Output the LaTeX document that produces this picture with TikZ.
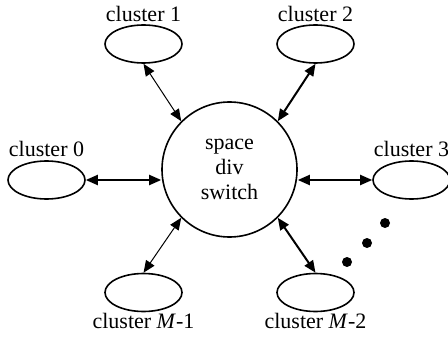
\documentclass[tikz,border=0pt]{standalone}
\usepackage{fontspec}
\setmainfont{Liberation Serif}
\usepackage{tikz}
\usetikzlibrary{arrows.meta, shapes.geometric, positioning}

\tikzset{
    cluster/.style={draw, ellipse, line width=0.8pt, inner sep=0pt, minimum width=38.5pt, minimum height=19pt},
    link/.style={{Triangle[length=6pt,width=5pt]}-{Triangle[length=6pt,width=5pt]}, line width=1pt},
    thinlink/.style={link, line width=0.5pt}
}

\begin{document}
\begin{tikzpicture}[x=0.5pt, y=0.5pt, font=\fontsize{11}{12.5}\selectfont]
        \useasboundingbox (0,0) rectangle (448,337);
        \node[draw, circle, line width=0.8pt, minimum size=67.5pt, inner sep=0pt, align=center] (sw) at (229.5,167.5) {space\\div\\switch};
        \node[cluster, label={[inner sep=1pt]above:cluster 1}] (c1) at (143.5,293) {};
        \node[cluster, label={[inner sep=1pt]above:cluster 2}] (c2) at (315.5,293) {};
        \node[cluster, label={[inner sep=1.5pt]above:cluster 0}] (c0) at (46.5,157) {};
        \node[cluster, label={[inner sep=1.5pt]above:cluster 3}] (c3) at (411.5,157) {};
        \node[cluster, label={[inner sep=0.5pt]below:cluster \textit{M}-1}] (cm1) at (143.5,44.5) {};
        \node[cluster, label={[inner sep=0.5pt]below:cluster \textit{M}-2}] (cm2) at (315.5,44.5) {};
        \draw[thinlink] (c1.south) -- (sw.135);
        \draw[link] (c2.south) -- (sw.45);
        \draw[link] (c0.east) -- (c0.east -| sw.west);
        \draw[link] (c3.west -| sw.east) -- (c3.west);
        \draw[thinlink] (sw.225) -- (cm1.north);
        \draw[link] (sw.315) -- (cm2.north);
        % dots
        \fill (385,114) circle (5);
        \fill (367,94) circle (5);
        \fill (347,75) circle (5);
\end{tikzpicture}
\end{document}
